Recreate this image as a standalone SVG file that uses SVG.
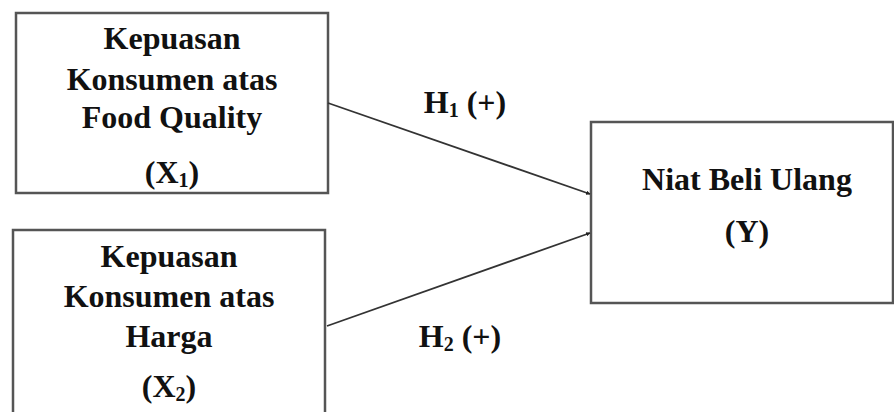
<svg xmlns="http://www.w3.org/2000/svg" width="894" height="412" viewBox="0 0 894 412">
<style>
.box{fill:#fff;stroke:#555;stroke-width:2.5}
.t{font-family:"Liberation Serif","Times New Roman",serif;font-weight:bold;font-size:32px;fill:#111;text-anchor:middle}
.sub{font-size:20px}
.c{stroke:#333;stroke-width:1.8;fill:none}
</style>
<defs>
<marker id="ah" viewBox="0 0 10 10" refX="9" refY="5" markerWidth="2.5" markerHeight="2.5" orient="auto" markerUnits="strokeWidth">
<path d="M0,0 L10,5 L0,10 z" fill="#222"/>
</marker>
</defs>
<g id="x1">
<rect class="box" x="16" y="13" width="312" height="180"/>
<text class="t" x="172" y="49">Kepuasan</text>
<text class="t" x="172" y="90">Konsumen atas</text>
<text class="t" x="172" y="128">Food Quality</text>
<text class="t" x="172" y="183">(X<tspan class="sub" dy="4">1</tspan><tspan dy="-4">)</tspan></text>
</g>
<g id="x2">
<rect class="box" x="13" y="230" width="312" height="200"/>
<text class="t" x="169" y="267">Kepuasan</text>
<text class="t" x="169" y="307">Konsumen atas</text>
<text class="t" x="169" y="347">Harga</text>
<text class="t" x="169" y="397">(X<tspan class="sub" dy="4">2</tspan><tspan dy="-4">)</tspan></text>
</g>
<g id="y">
<rect class="box" x="591" y="122" width="302" height="181"/>
<text class="t" x="747" y="190">Niat Beli Ulang</text>
<text class="t" x="747" y="242">(Y)</text>
</g>
<g id="connectors">
<line class="c" x1="328" y1="103" x2="590" y2="194" marker-end="url(#ah)"/>
<line class="c" x1="327" y1="326" x2="590" y2="233" marker-end="url(#ah)"/>
<text class="t" x="465" y="113">H<tspan class="sub" dy="4">1</tspan><tspan dy="-4"> (+)</tspan></text>
<text class="t" x="460" y="347">H<tspan class="sub" dy="4">2</tspan><tspan dy="-4"> (+)</tspan></text>
</g>
</svg>
